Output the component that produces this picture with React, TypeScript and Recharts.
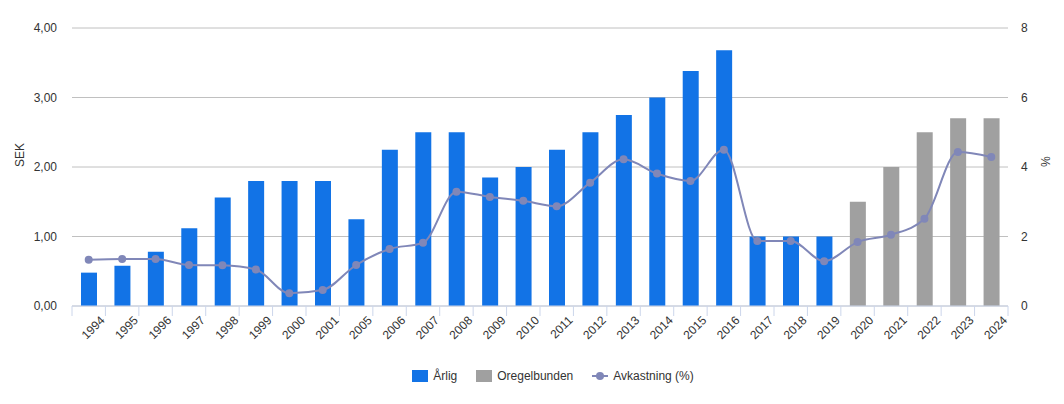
import React from 'react';
import { Bar, CartesianGrid, ComposedChart, Legend, Line, XAxis, YAxis } from 'recharts';

const years = [
  '1994', '1995', '1996', '1997', '1998', '1999', '2000', '2001', '2005', '2006',
  '2007', '2008', '2009', '2010', '2011', '2012', '2013', '2014', '2015', '2016',
  '2017', '2018', '2019', '2020', '2021', '2022', '2023', '2024',
];

const arlig = [
  0.48, 0.58, 0.78, 1.12, 1.56, 1.8, 1.8, 1.8, 1.25, 2.25,
  2.5, 2.5, 1.85, 2.0, 2.25, 2.5, 2.75, 3.0, 3.38, 3.68,
  1.0, 1.0, 1.0, null, null, null, null, null,
];

const oregelbunden = [
  null, null, null, null, null, null, null, null, null, null,
  null, null, null, null, null, null, null, null, null, null,
  null, null, null, 1.5, 2.0, 2.5, 2.7, 2.7,
];

const avkastning = [
  1.33, 1.35, 1.35, 1.18, 1.17, 1.05, 0.37, 0.46, 1.18, 1.64,
  1.82, 3.29, 3.14, 3.03, 2.87, 3.55, 4.22, 3.81, 3.6, 4.5,
  1.87, 1.87, 1.29, 1.84, 2.05, 2.51, 4.43, 4.29,
];

const sekTicks = [0, 1, 2, 3, 4];
const pctTicks = [0, 2, 4, 6, 8];

const data = years.map((year, i) => ({
  year,
  arlig: arlig[i],
  oregelbunden: oregelbunden[i],
  avkastning: avkastning[i],
}));

const WIDTH = 1064;
const HEIGHT = 404;
const LEFT = 72;
const RIGHT_W = 56;
const TOP = 28;
const X_AXIS_H = 58;
const LEGEND_H = 40;
const PLOT_BOTTOM = HEIGHT - X_AXIS_H - LEGEND_H;
const BAND = (WIDTH - LEFT - RIGHT_W) / years.length;

const BLUE = '#1273e6';
const GRAY = '#a0a0a0';
const LINE = '#8087b8';
const AXIS = '#ccd6eb';
const TEXT = '#333333';
const FONT = '"Liberation Sans", Arial, sans-serif';

const fmtSek = (v: number) => v.toFixed(2).replace('.', ',');

function YearTick(props: any) {
  const { x, index, payload } = props;
  const right = x + BAND / 2;
  return (
    <g>
      {index === 0 && (
        <line x1={x - BAND / 2} x2={x - BAND / 2} y1={PLOT_BOTTOM} y2={PLOT_BOTTOM + 10} stroke={AXIS} />
      )}
      <line x1={right} x2={right} y1={PLOT_BOTTOM} y2={PLOT_BOTTOM + 10} stroke={AXIS} />
      <text
        x={right}
        y={PLOT_BOTTOM + 15}
        textAnchor='end'
        fontSize={12}
        fill={TEXT}
        fontFamily={FONT}
        transform={`rotate(-45 ${right} ${PLOT_BOTTOM + 15})`}
      >
        {payload.value}
      </text>
    </g>
  );
}

function SekTick(props: any) {
  const { y, payload } = props;
  return (
    <text x={LEFT - 15} y={y + 4} textAnchor='end' fontSize={12} fill={TEXT} fontFamily={FONT}>
      {fmtSek(payload.value)}
    </text>
  );
}

function PctTick(props: any) {
  const { y, payload } = props;
  return (
    <text x={WIDTH - RIGHT_W + 13} y={y + 4} textAnchor='start' fontSize={12} fill={TEXT} fontFamily={FONT}>
      {payload.value}
    </text>
  );
}

function ChartLegend() {
  const item = { display: 'flex', alignItems: 'center', marginRight: 19 } as const;
  const label = { fontSize: 12, color: TEXT, fontFamily: FONT, marginLeft: 5 } as const;
  return (
    <div style={{ display: 'flex', justifyContent: 'center', position: 'relative', top: -8, paddingLeft: 42, height: LEGEND_H, boxSizing: 'border-box' }}>
      <div style={item}>
        <span style={{ width: 16, height: 12, background: BLUE, display: 'inline-block' }} />
        <span style={label}>Årlig</span>
      </div>
      <div style={item}>
        <span style={{ width: 16, height: 12, background: GRAY, display: 'inline-block' }} />
        <span style={label}>Oregelbunden</span>
      </div>
      <div style={{ ...item, marginRight: 0 }}>
        <svg width={16} height={12}>
          <line x1={0} x2={16} y1={6} y2={6} stroke={LINE} strokeWidth={2} />
          <circle cx={8} cy={6} r={4} fill={LINE} />
        </svg>
        <span style={label}>Avkastning (%)</span>
      </div>
    </div>
  );
}

export default function App() {
  return (
    <div style={{ position: 'absolute', left: 0, top: 0, background: '#fff' }}>
      <ComposedChart
        width={WIDTH}
        height={HEIGHT}
        data={data}
        margin={{ top: TOP, right: 0, bottom: 0, left: 0 }}
        style={{ fontFamily: FONT }}
      >
        <CartesianGrid vertical={false} stroke='#c0c0c0' yAxisId='sek' />
        <XAxis
          dataKey='year'
          interval={0}
          height={X_AXIS_H}
          tickLine={false}
          axisLine={{ stroke: AXIS }}
          tick={<YearTick />}
        />
        <YAxis
          yAxisId='sek'
          domain={[0, 4]}
          ticks={sekTicks}
          width={LEFT}
          axisLine={false}
          tickLine={false}
          tick={<SekTick />}
          label={{ value: 'SEK', angle: -90, position: 'insideLeft', offset: 20, fill: TEXT, fontSize: 12 }}
        />
        <YAxis
          yAxisId='pct'
          orientation='right'
          domain={[0, 8]}
          ticks={pctTicks}
          width={RIGHT_W}
          axisLine={false}
          tickLine={false}
          tick={<PctTick />}
          label={{ value: '%', angle: 90, position: 'insideRight', offset: 19, fill: TEXT, fontSize: 12 }}
        />
        <Legend verticalAlign='bottom' height={LEGEND_H} content={<ChartLegend />} />
        <Bar yAxisId='sek' dataKey='arlig' name='Årlig' stackId='a' fill={BLUE} barSize={16} isAnimationActive={false} />
        <Bar yAxisId='sek' dataKey='oregelbunden' name='Oregelbunden' stackId='a' fill={GRAY} barSize={16} isAnimationActive={false} />
        <Line
          yAxisId='pct'
          type='monotone'
          dataKey='avkastning'
          name='Avkastning (%)'
          stroke={LINE}
          strokeWidth={2}
          dot={{ r: 4, fill: LINE, stroke: LINE, strokeWidth: 0 }}
          activeDot={false}
          isAnimationActive={false}
        />
      </ComposedChart>
    </div>
  );
}
